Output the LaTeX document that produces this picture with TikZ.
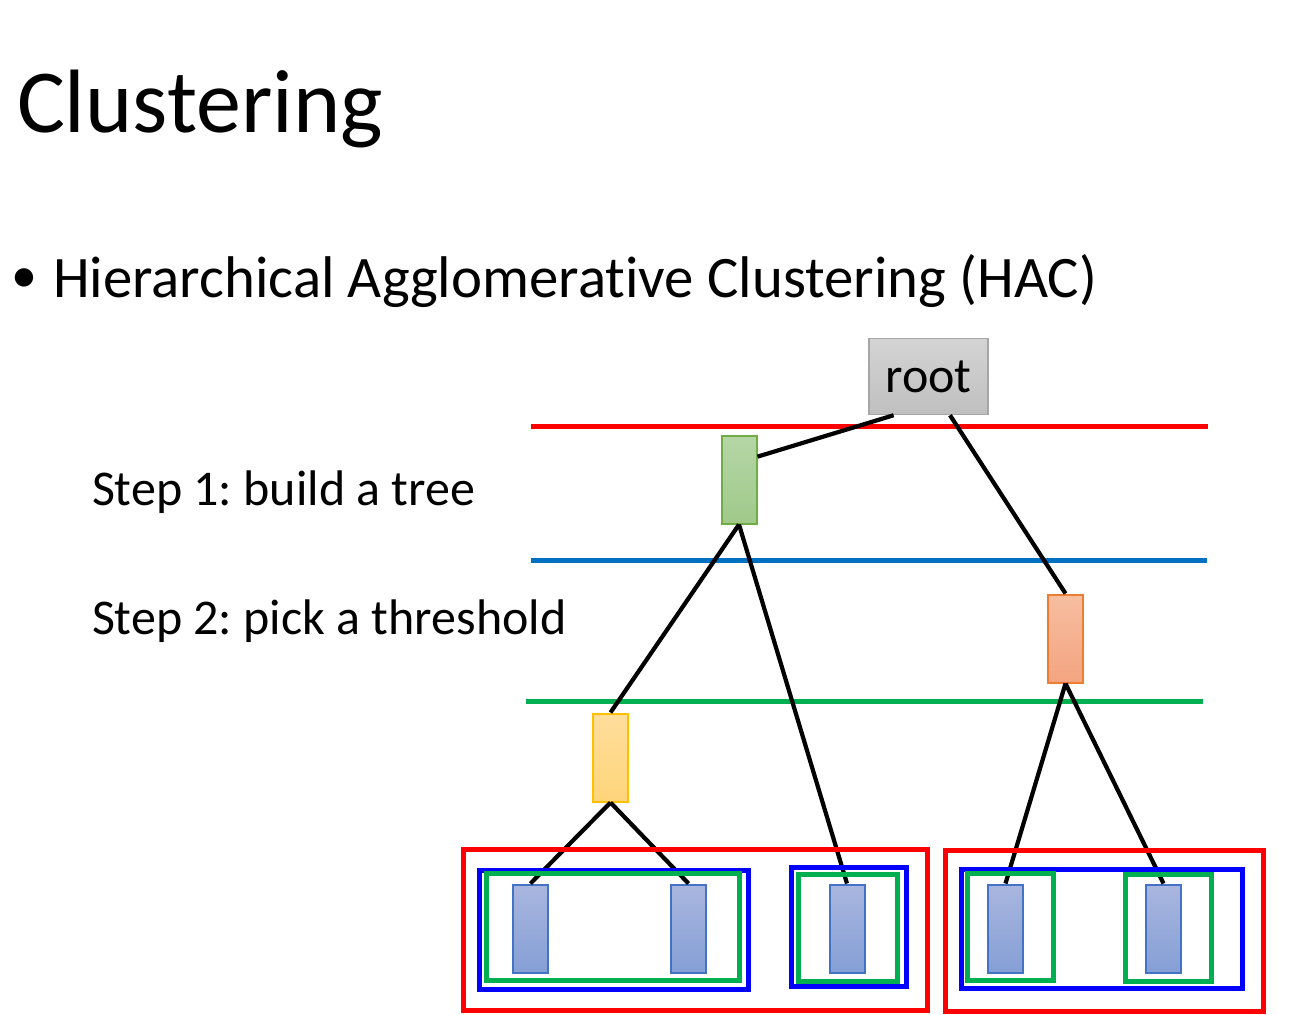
\documentclass[tikz,border=0pt]{standalone}
\usepackage{fontspec}
\setmainfont{Carlito}[Ligatures=NoCommon]
\definecolor{leafborder}{HTML}{4472C4}
\definecolor{leaftop}{HTML}{A9B6DF}
\definecolor{leafbot}{HTML}{859FD6}
\definecolor{hred}{HTML}{FF0000}
\definecolor{hblue}{HTML}{0070C0}
\definecolor{hgreen}{HTML}{00B050}
\definecolor{bblue}{HTML}{0000FF}
\definecolor{ngreen}{HTML}{70AD47}
\definecolor{ngreentop}{HTML}{B5D6A6}
\definecolor{ngreenbot}{HTML}{A0C98A}
\definecolor{norange}{HTML}{ED7D31}
\definecolor{norangetop}{HTML}{F6BEA0}
\definecolor{norangebot}{HTML}{F4A480}
\definecolor{nyellow}{HTML}{FFC000}
\definecolor{nyellowtop}{HTML}{FFDE9C}
\definecolor{nyellowbot}{HTML}{FFD57A}
\definecolor{rootborder}{HTML}{A6A6A6}
\definecolor{roottop}{HTML}{D4D4D4}
\definecolor{rootbot}{HTML}{BFBFBF}
\begin{document}
\frenchspacing
\begin{tikzpicture}[x=1pt,y=-1pt,
  txt/.style={anchor=base west,inner sep=0pt,outer sep=0pt},
  tnode/.style={draw,line width=2pt,minimum width=35pt,minimum height=88pt,inner sep=0pt},
  leaf/.style={tnode,draw=leafborder,top color=leaftop,bottom color=leafbot},
  edge/.style={line width=4.2pt,black},
  hline/.style={line width=5pt},
  cbox/.style={line width=5pt}
]
\useasboundingbox (0,0) rectangle (1294,1015);

\node[txt,font=\fontsize{90}{100}\selectfont] (title) at (17,132) {Clustering};
\node[txt,font=\fontsize{52}{56}\selectfont] (bul) at (12,292) {•};
\node[txt,font=\fontsize{58.8}{70}\selectfont] (hac) at (53,297) {Hierarchical Agglomerative Clustering (HAC)};
\node[txt,font=\fontsize{50}{58}\selectfont] (s1) at (92,505) {Step 1: build a tree};
\node[txt,font=\fontsize{50}{58}\selectfont] (s2) at (92,634) {Step 2: pick a threshold};

% threshold lines
\coordinate (r1) at (531,426); \coordinate (r2) at (1208,426);
\coordinate (b1) at (531,560); \coordinate (b2) at (1207,560);
\coordinate (g1) at (526,701); \coordinate (g2) at (1203,701);
\draw[hline,hred] (r1) -- (r2);
\draw[hline,hblue] (b1) -- (b2);
\draw[hline,hgreen] (g1) -- (g2);

% tree nodes
\node[draw=rootborder,line width=1.5pt,top color=roottop,bottom color=rootbot,minimum width=119pt,minimum height=76pt,inner sep=0pt,font=\fontsize{50}{58}\selectfont] (root) at (928.5,376.5) {root};
\node[tnode,draw=ngreen,top color=ngreentop,bottom color=ngreenbot] (gn) at (739,479.5) {};
\node[tnode,draw=norange,top color=norangetop,bottom color=norangebot] (on) at (1065.5,638.5) {};
\node[tnode,draw=nyellow,top color=nyellowtop,bottom color=nyellowbot] (yn) at (610.5,757.5) {};

\node[leaf] (l1) at (530.5,928.5) {};
\node[leaf] (l2) at (688.5,928.5) {};
\node[leaf] (l3) at (847,928.5) {};
\node[leaf] (l4) at (1005.5,928.5) {};
\node[leaf] (l5) at (1163.5,928.5) {};

% edges
\draw[edge] (root.228) -- (gn.51);
\draw[edge] (root.-61) -- (on.north);
\draw[edge] (gn.south) -- (yn.north);
\draw[edge] (gn.south) -- (l3.north);
\draw[edge] (yn.south) -- (l1.north);
\draw[edge] (yn.south) -- (l2.north);
\draw[edge] (on.south) -- (l4.north);
\draw[edge] (on.south) -- (l5.north);

% cluster boxes
\draw[cbox,hred] (463,849) rectangle (927,1010);
\draw[cbox,hred] (945,850) rectangle (1263,1011);
\draw[cbox,bblue] (479,870) rectangle (748,989);
\draw[cbox,bblue] (791,867) rectangle (906,986);
\draw[cbox,bblue] (961,869) rectangle (1242,988);
\draw[cbox,hgreen] (486,873) rectangle (739,980);
\draw[cbox,hgreen] (798,874) rectangle (897,981);
\draw[cbox,hgreen] (967,873) rectangle (1053,980);
\draw[cbox,hgreen] (1125,874) rectangle (1211,981);
\end{tikzpicture}
\end{document}
